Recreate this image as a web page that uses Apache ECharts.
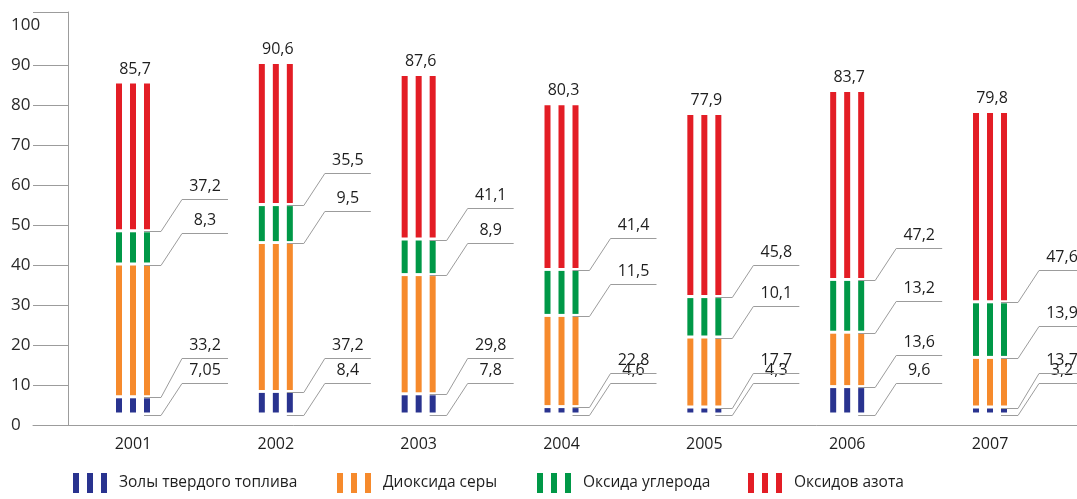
<!DOCTYPE html>
<html>
<head>
<meta charset="utf-8">
<script src="https://cdn.jsdelivr.net/npm/echarts@6/dist/echarts.min.js"></script>
<style>
html,body{margin:0;padding:0;background:#fff;}
#chart{width:1077px;height:499px;}
</style>
</head>
<body>
<div id="chart"></div>
<script>
// ---- data ----
const years = ['2001', '2002', '2003', '2004', '2005', '2006', '2007'];
const ash   = [7.05, 8.4, 7.8, 4.6, 4.3, 9.6, 3.2];       // Золы твердого топлива
const so2   = [33.2, 37.2, 29.8, 22.8, 17.7, 13.6, 13.7]; // Диоксида серы
const co    = [8.3, 9.5, 8.9, 11.5, 10.1, 13.2, 13.9];    // Оксида углерода
const nox   = [37.2, 35.5, 41.1, 41.4, 45.8, 47.2, 47.6]; // Оксидов азота
const totals = [85.7, 90.6, 87.6, 80.3, 77.9, 83.7, 79.8];
const seriesNames = ['Золы твердого топлива', 'Диоксида серы', 'Оксида углерода', 'Оксидов азота'];
const yTickLabels = [0, 10, 20, 30, 40, 50, 60, 70, 80, 90, 100];

// ---- style ----
const FONT = '"Open Sans", "Noto Sans", sans-serif';
const colors = ['#29338f', '#f68a2c', '#009847', '#e31d25'];
const GRAY = '#9c9c9c';
const TEXT = '#1e1e1e';
const STRIPE_ICON = 'path://M0,0h6v20h-6z M14,0h6v20h-6z M28,0h6v20h-6z';
const legendLefts = [73, 337, 537, 748];

const comps = [ash, so2, co, nox];
const fmt = v => String(v).replace('.', ',');

// stacked extents built from the arrays
function cum(k, i) { let s = 0; for (let j = 0; j < k; j++) s += comps[j][i]; return s; }
const stacked = comps.map((arr, k) => arr.map((v, i) => [i, cum(k, i), cum(k, i) + v, v]));
const tops = years.map((y, i) => [i, cum(4, i), totals[i]]);

// visible geometry of segment k in category i
function geom(k, i, api) {
  const lo = cum(k, i), hi = lo + comps[k][i];
  const pLo = api.coord([i, lo]);
  const pHi = api.coord([i, hi]);
  const base = api.coord([i, 0])[1];
  let yTop = pHi[1] + 1.5;
  let yBot = pLo[1] - 1.5;
  if (k === 0) {               // bottom segment sits slightly above the axis
    yBot = base - 12.5;
    yTop = Math.min(yTop, yBot - 4);
  } else if (k === 1) {
    yBot = Math.min(yBot, base - 19.5);
  }
  return { c: pLo[0], yTop, yBot };
}
// leader elbow levels, bottom-up, spaced so labels stay readable
function elbows(i, api) {
  const out = [];
  for (let k = 0; k < 4; k++) {
    const g = geom(k, i, api);
    const ay = Math.round(g.yBot + 2) + 0.5;
    let ey = ay - 32;
    if (k > 0) {
      const prev = out[k - 1].ey;
      const gap = prev - ey;
      if (gap < 10) ey = prev - 10;
      else if (gap >= 14 && gap < 25) ey = prev - 25;
    }
    out.push({ ay, ey });
  }
  return out;
}

function makeRender(k) {
  return function (params, api) {
    const i = api.value(0), val = api.value(3);
    const g = geom(k, i, api);
    const e = elbows(i, api)[k];
    const c = g.c;
    const color = api.visual('color');
    const children = [];
    [-14, 0, 14].forEach(dx => {
      children.push({
        type: 'rect',
        shape: { x: c + dx - 3, y: g.yTop, width: 6, height: Math.max(0, g.yBot - g.yTop) },
        style: { fill: color }
      });
    });
    children.push({
      type: 'polyline',
      shape: { points: [[c + 11, e.ay], [c + 28, e.ay], [c + 49, e.ey], [c + 95, e.ey]] },
      style: { stroke: GRAY, lineWidth: 1, fill: null }
    });
    children.push({
      type: 'text',
      x: c + 72, y: e.ey - 13,
      style: { text: fmt(val), fill: TEXT, font: '16px ' + FONT, align: 'center', verticalAlign: 'middle' }
    });
    return { type: 'group', children };
  };
}

const chart = echarts.init(document.getElementById('chart'), null, { renderer: 'canvas' });

const series = stacked.map((data, k) => ({
  type: 'custom',
  name: seriesNames[k],
  itemStyle: { color: colors[k] },
  renderItem: makeRender(k),
  encode: { x: 0, y: [1, 2] },
  data: data,
  silent: true
}));
series.push({
  type: 'custom',
  name: 'totals',
  renderItem: function (params, api) {
    const p = api.coord([api.value(0), api.value(1)]);
    return {
      type: 'text',
      x: p[0] + 2, y: p[1] - 13,
      style: { text: fmt(api.value(2)), fill: TEXT, font: '16px ' + FONT, align: 'center', verticalAlign: 'middle' }
    };
  },
  encode: { x: 0, y: 1 },
  data: tops,
  silent: true
});

chart.setOption({
  animation: false,
  backgroundColor: '#fff',
  grid: { left: 33, right: 0, top: 12, bottom: 74, containLabel: false },
  legend: seriesNames.map((n, k) => ({
    data: [n],
    left: legendLefts[k],
    top: 473,
    padding: 0,
    itemWidth: 34,
    itemHeight: 20,
    icon: STRIPE_ICON,
    selectedMode: false,
    textStyle: { fontSize: 15.5, color: TEXT, fontFamily: FONT, padding: [9, 0, 0, 7] }
  })),
  xAxis: {
    type: 'value',
    min: -0.7001,
    max: 6.609,
    axisLine: { show: true, onZero: false, lineStyle: { color: GRAY, width: 1 } },
    axisTick: { show: false },
    splitLine: { show: false },
    axisLabel: {
      customValues: years.map((y, i) => i),
      formatter: v => years[Math.round(v)],
      color: TEXT, fontSize: 16, fontFamily: FONT, margin: 11
    }
  },
  yAxis: {
    type: 'value',
    min: 0,
    max: 103.25,
    offset: -35,
    axisLine: { show: true, onZero: false, lineStyle: { color: GRAY, width: 1 } },
    axisTick: {
      show: true, inside: false, length: 35,
      customValues: [0, 10, 20, 30, 40, 50, 60, 70, 80, 90, 103.25],
      lineStyle: { color: GRAY, width: 1 }
    },
    splitLine: { show: false },
    axisLabel: {
      customValues: yTickLabels,
      align: 'left',
      margin: 57,
      color: '#2a2a2a', fontSize: 17, fontFamily: FONT
    }
  },
  series: series
});
</script>
</body>
</html>
